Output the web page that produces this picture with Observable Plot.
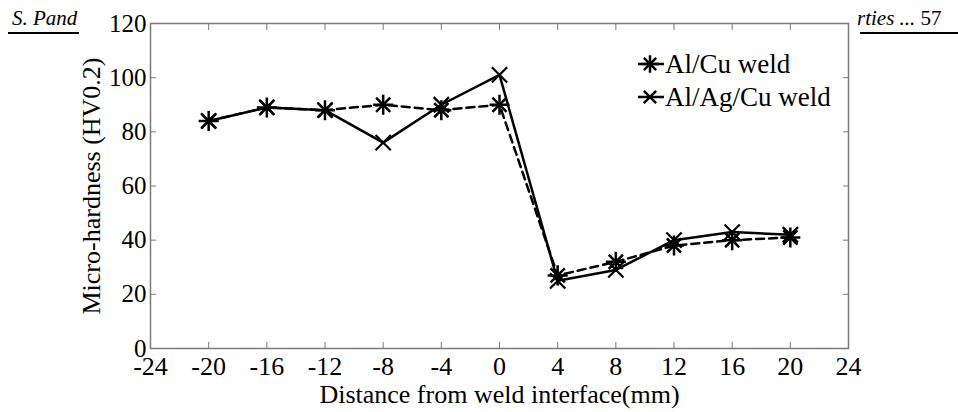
<!DOCTYPE html>
<html>
<head>
<meta charset="utf-8">
<script src="https://cdn.jsdelivr.net/npm/d3@7"></script>
<script src="https://cdn.jsdelivr.net/npm/@observablehq/plot@0.6"></script>
<style>
  html, body { margin: 0; padding: 0; background: white; }
  #wrap { position: relative; width: 958px; height: 412px; overflow: hidden; font-family: "Liberation Serif", serif; }
  .hdr { position: absolute; font-size: 21px; white-space: nowrap; color: #000; }
  .uline { position: absolute; height: 2px; background: #000; }
  #legend { position: absolute; left: 0; top: 0; }
</style>
</head>
<body>
<div id="wrap">
  <div id="chart"></div>
  <div class="hdr" style="left:12px; top:6px;"><i>S. Pand</i></div>
  <div class="uline" style="left:8px; top:32px; width:71px;"></div>
  <div class="hdr" style="left:857px; top:6px;"><i>rties ...</i> 57</div>
  <div class="uline" style="left:860px; top:32px; width:98px;"></div>
  <svg id="legend" width="958" height="412"></svg>
</div>
<script>
const distance = [-20, -16, -12, -8, -4, 0, 4, 8, 12, 16, 20];
const alCu = [84, 89, 88, 90, 88, 90, 27, 32, 38, 40, 41];
const alAgCu = [84, 89, 88, 76, 90, 101, 25, 29, 40, 43, 42];
const seriesNames = ["Al/Cu weld", "Al/Ag/Cu weld"];
const xTicks = [-24, -20, -16, -12, -8, -4, 0, 4, 8, 12, 16, 20, 24];
const yTicks = [0, 20, 40, 60, 80, 100, 120];
const xLabel = "Distance from weld interface(mm)";
const yLabel = "Micro-hardness (HV0.2)";

const rowsAlCu = distance.map((d, i) => ({x: d, y: alCu[i]}));
const rowsAlAgCu = distance.map((d, i) => ({x: d, y: alAgCu[i]}));

const frameColor = "#7a7a7a";
const labelFont = 26;

const chart = Plot.plot({
  width: 958,
  height: 412,
  marginLeft: 150,
  marginRight: 110,
  marginTop: 23,
  marginBottom: 64,
  style: {fontFamily: "Liberation Serif", fontSize: "24px", background: "transparent", color: "black"},
  x: {domain: [-24, 24]},
  y: {domain: [0, 120]},
  marks: [
    Plot.frame({stroke: frameColor, strokeWidth: 1.5}),
    Plot.axisX({anchor: "bottom", ticks: xTicks, tickSize: 0, tickPadding: 8, label: null, fontSize: 26, tickFormat: d => String(d)}),
    Plot.axisX({anchor: "bottom", ticks: xTicks, tickSize: 6, dy: -6, fill: "none", label: null, stroke: frameColor}),
    Plot.axisX({anchor: "top", ticks: xTicks, tickSize: 6, dy: 6, fill: "none", label: null, stroke: frameColor}),
    Plot.axisY({anchor: "left", ticks: yTicks, tickSize: 0, tickPadding: 4, label: null, fontSize: 25, tickFormat: d => String(d)}),
    Plot.axisY({anchor: "left", ticks: yTicks, tickSize: 6, dx: 6, fill: "none", label: null, stroke: frameColor}),
    Plot.axisY({anchor: "right", ticks: yTicks, tickSize: 6, dx: -6, fill: "none", label: null, stroke: frameColor}),
    Plot.text([xLabel], {frameAnchor: "bottom", dy: 46, lineAnchor: "middle", textAnchor: "middle", fontSize: labelFont}),
    Plot.text([yLabel], {frameAnchor: "left", dx: -59, rotate: -90, lineAnchor: "middle", textAnchor: "middle", fontSize: labelFont}),
    Plot.line(rowsAlCu, {x: "x", y: "y", stroke: "black", strokeWidth: 2.5, strokeDasharray: "8,5"}),
    Plot.line(rowsAlAgCu, {x: "x", y: "y", stroke: "black", strokeWidth: 2.5}),
    Plot.dot(rowsAlCu, {x: "x", y: "y", symbol: "plus", r: 6.5, stroke: "black", strokeWidth: 2.5}),
    Plot.dot(rowsAlCu, {x: "x", y: "y", symbol: "times", r: 6.5, stroke: "black", strokeWidth: 2.5}),
    Plot.dot(rowsAlAgCu, {x: "x", y: "y", symbol: "times", r: 7, stroke: "black", strokeWidth: 2.2})
  ]
});
document.getElementById("chart").appendChild(chart);

// Legend
const lg = d3.select("#legend");
const legendItems = [
  {name: seriesNames[0], symbols: [d3.symbolPlus, d3.symbolTimes]},
  {name: seriesNames[1], symbols: [d3.symbolTimes]}
];
legendItems.forEach((it, i) => {
  const cy = 64 + i * 33;
  lg.append("line").attr("x1", 638).attr("x2", 664).attr("y1", cy).attr("y2", cy)
    .attr("stroke", "black").attr("stroke-width", 2.5);
  it.symbols.forEach(s => {
    lg.append("path").attr("d", d3.symbol(s, 100)()).attr("transform", `translate(650,${cy})`)
      .attr("fill", "none").attr("stroke", "black").attr("stroke-width", 2.5);
  });
  lg.append("text").attr("x", 665).attr("y", cy).attr("dy", "0.35em")
    .attr("font-family", "Liberation Serif").attr("font-size", 27).text(it.name);
});
</script>
</body>
</html>
